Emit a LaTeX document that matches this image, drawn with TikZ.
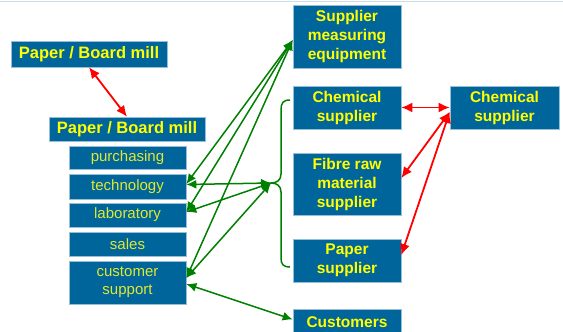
\documentclass[tikz,border=0pt]{standalone}
\usepackage{fontspec}
\setmainfont{Liberation Sans}
\usetikzlibrary{arrows.meta}
\definecolor{boxblue}{RGB}{0,101,155}
\definecolor{boxline}{RGB}{150,190,215}
\definecolor{mainyel}{RGB}{255,255,0}
\definecolor{subyel}{RGB}{225,232,50}
\definecolor{arrgreen}{RGB}{0,128,0}
\definecolor{arrred}{RGB}{255,0,0}
\definecolor{topline}{RGB}{200,222,235}
\tikzset{
  box/.style={fill=boxblue, draw=boxline, line width=0.6pt, inner sep=0pt, align=center},
  mainbox/.style={box, text=mainyel, font=\bfseries\fontsize{15.5}{19}\selectfont},
  millbox/.style={box, text=mainyel, font=\bfseries\fontsize{16.5}{19}\selectfont},
  subbox/.style={box, text=subyel, font=\fontsize{15}{18}\selectfont, minimum width=117pt},
  garrow/.style={draw=arrgreen, line width=1.5pt, {Latex[length=10pt,width=9pt]}-{Latex[length=10pt,width=9pt]}},
  rarrow/.style={draw=arrred, line width=1.8pt, {Latex[length=11pt,width=10pt]}-{Latex[length=11pt,width=10pt]}},
  bracestyle/.style={draw=arrgreen, line width=1.5pt}
}
\begin{document}
\begin{tikzpicture}[x=1pt,y=-1pt]
\useasboundingbox (0,0) rectangle (563,332);
\clip (0,0) rectangle (563,332);
\fill[white] (0,0) rectangle (563,332);
\draw[topline, line width=1pt] (0,1) -- (563,1);

% left column
\node[millbox, minimum width=156pt, minimum height=26pt] (mill1) at (89,54) {Paper / Board mill};
\node[millbox, minimum width=156pt, minimum height=24pt] (mill2) at (127,129) {Paper / Board mill};
\node[subbox, minimum height=23pt] (purch) at (127.5,157.5) {purchasing};
\node[subbox, minimum height=25pt] (tech) at (127.5,186.5) {technology};
\node[subbox, minimum height=24pt] (lab) at (127.5,215) {laboratory};
\node[subbox, minimum height=24pt] (sales) at (127.5,244) {sales};
\node[subbox, minimum height=43pt] (cust) at (127.5,282.5) {customer\\support};

% right column
\node[mainbox, minimum width=108pt, minimum height=63pt] (sme) at (347,36.5) {Supplier\\measuring\\equipment};
\node[mainbox, minimum width=108pt, minimum height=43pt] (chem1) at (347,107.5) {Chemical\\supplier};
\node[mainbox, minimum width=109pt, minimum height=43pt] (chem2) at (504.5,107.5) {Chemical\\supplier};
\node[mainbox, minimum width=108pt, minimum height=62pt] (fibre) at (347,184) {Fibre raw\\material\\supplier};
\node[mainbox, minimum width=108pt, minimum height=43pt] (paper) at (347,260.5) {Paper\\supplier};
\node[mainbox, minimum width=108pt, minimum height=26pt] (customers) at (347,322) {Customers};

% brace
\coordinate (btop) at (290,100);
\coordinate (bbot) at (290,267);
\coordinate (tip) at (271,183);
\draw[bracestyle] (btop) .. controls (283,100) and (281,103) .. (281,110)
  -- (281,174) .. controls (281,180) and (277,183) .. (tip)
  .. controls (277,183) and (281,186) .. (281,192)
  -- (281,258) .. controls (281,264) and (283,267) .. (bbot);

% green connectors
\draw[garrow] ([yshift=-3.5pt]sme.west) -- ([yshift=2.5pt]tech.east);
\draw[garrow] ([yshift=-3.5pt]sme.west) -- ([yshift=3pt]lab.east);
\draw[garrow] ([yshift=-3.5pt]sme.west) -- ([yshift=4.5pt]cust.east);
\draw[garrow] (tip) -- ([yshift=2pt]tech.east);
\draw[garrow] (tip) -- ([yshift=3pt]lab.east);
\draw[garrow] (tip) -- ([yshift=4.5pt]cust.east);
\draw[garrow] ([yshift=-1.5pt]cust.east) -- ([yshift=2.5pt]customers.west);

% red connectors
\draw[rarrow] (mill1.south) -- (mill2.north);
\draw[rarrow] (chem1.east) -- (chem2.west);
\draw[rarrow] ([yshift=-4.5pt]chem2.west) -- ([yshift=6pt]fibre.east);
\draw[rarrow] ([yshift=-4.5pt]chem2.west) -- ([yshift=5.5pt]paper.east);
\end{tikzpicture}
\end{document}
